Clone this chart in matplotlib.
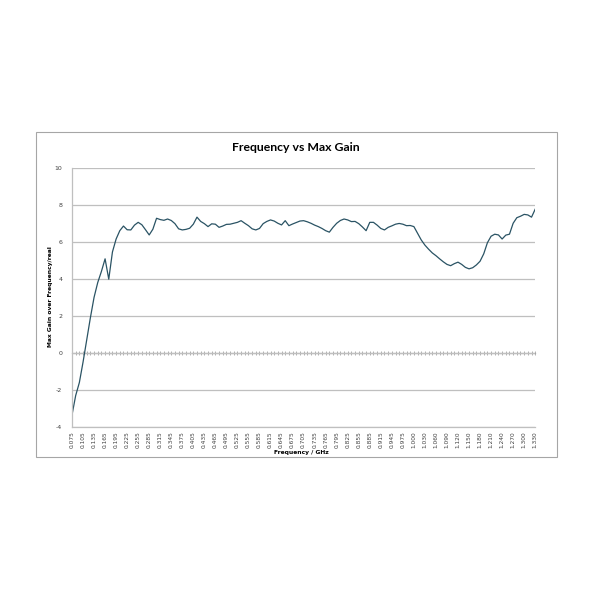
import matplotlib.pyplot as plt
from matplotlib.patches import Rectangle
import numpy as np

# frequency categories (GHz): 0.075..0.995 then 1.000..1.330, step 0.01
freq_low = np.round(np.arange(0.075, 0.996, 0.01), 3)
freq_high = np.round(np.arange(1.000, 1.331, 0.01), 3)
freqs = list(freq_low) + list(freq_high)

max_gain = [
    -3.35, -2.3, -1.6, -0.5, 0.7, 1.9, 3.0, 3.8, 4.4, 5.08,
    3.98, 5.45, 6.15, 6.6, 6.85, 6.65, 6.64, 6.9, 7.05, 6.92,
    6.65, 6.37, 6.68, 7.27, 7.2, 7.16, 7.23, 7.15, 6.98, 6.7,
    6.64, 6.67, 6.73, 6.95, 7.33, 7.1, 6.98, 6.82, 6.97, 6.95,
    6.78, 6.85, 6.94, 6.95, 7.0, 7.05, 7.14, 7.0, 6.87, 6.7,
    6.64, 6.72, 6.98, 7.1, 7.18, 7.12, 7.0, 6.91, 7.14, 6.87,
    6.96, 7.04, 7.12, 7.14, 7.08, 7.0, 6.9, 6.82, 6.72, 6.6,
    6.52, 6.78, 7.0, 7.15, 7.23, 7.18, 7.09, 7.1, 6.98, 6.8,
    6.6, 7.05, 7.05, 6.9, 6.72, 6.64, 6.78, 6.86, 6.95, 6.99,
    6.95, 6.87, 6.88, 6.82, 6.46, 6.1, 5.82, 5.6, 5.4, 5.25,
    5.08, 4.92, 4.78, 4.71, 4.82, 4.9, 4.78, 4.62, 4.54, 4.6,
    4.75, 4.95, 5.35, 5.95, 6.3, 6.41, 6.37, 6.15, 6.36, 6.41,
    7.0, 7.3, 7.38, 7.48, 7.45, 7.33, 7.76,
]

y_ticks = [-4, -2, 0, 2, 4, 6, 8, 10]

grid_col = '#bfbfbf'
line_col = '#2a5364'

fig = plt.figure(figsize=(6, 6), dpi=100)
fig.patch.set_facecolor('white')

# outer chart border
fig.patches.append(Rectangle((0.06, 0.238), 0.868, 0.542, transform=fig.transFigure,
                             fill=False, edgecolor='#a6a6a6', linewidth=0.8))

ax = fig.add_axes([0.12, 0.2883, 0.772, 0.4322])
idx = np.arange(len(freqs))
ax.plot(idx, max_gain, color=line_col, linewidth=0.9)

ax.set_xlim(0, len(freqs) - 1)
ax.set_ylim(-4, 10)
ax.set_yticks(y_ticks)
ax.set_yticklabels([str(v) for v in y_ticks], fontsize=4.5, color='#404040')
ax.yaxis.grid(True, color=grid_col, linewidth=0.9)
ax.set_axisbelow(True)

lab_idx = idx[::3]
ax.set_xticks(lab_idx)
ax.set_xticklabels(['%.3f' % freqs[i] for i in lab_idx], rotation=90, fontsize=4.2, color='#404040')
ax.tick_params(axis='x', length=0, pad=3)
ax.tick_params(axis='y', length=0, pad=7)

for s in ['top', 'right']:
    ax.spines[s].set_visible(False)
ax.spines['bottom'].set_color(grid_col)
ax.spines['left'].set_color(grid_col)
ax.spines['left'].set_linewidth(0.9)
ax.spines['bottom'].set_linewidth(0.9)

# category axis crossing at zero with tick marks
sec = ax.secondary_xaxis(0, transform=ax.transData)
sec.set_xticks(idx)
sec.set_xticklabels([])
sec.tick_params(axis='x', length=3, width=0.6, color='#a6a6a6', direction='inout')
sec.spines['bottom'].set_color('#a6a6a6')
sec.spines['bottom'].set_linewidth(0.9)

fig.text(0.493, 0.754, 'Frequency vs Max Gain', ha='center', va='center',
         fontsize=8.8, fontweight='bold', family='Lato')
fig.text(0.503, 0.246, 'Frequency / GHz', ha='center', va='center',
         fontsize=4.3, fontweight='bold')
fig.text(0.084, 0.505, 'Max Gain over Frequency/real', ha='center', va='center',
         rotation=90, fontsize=4.3, fontweight='bold')

fig.savefig('out.png', dpi=100, facecolor='white')
